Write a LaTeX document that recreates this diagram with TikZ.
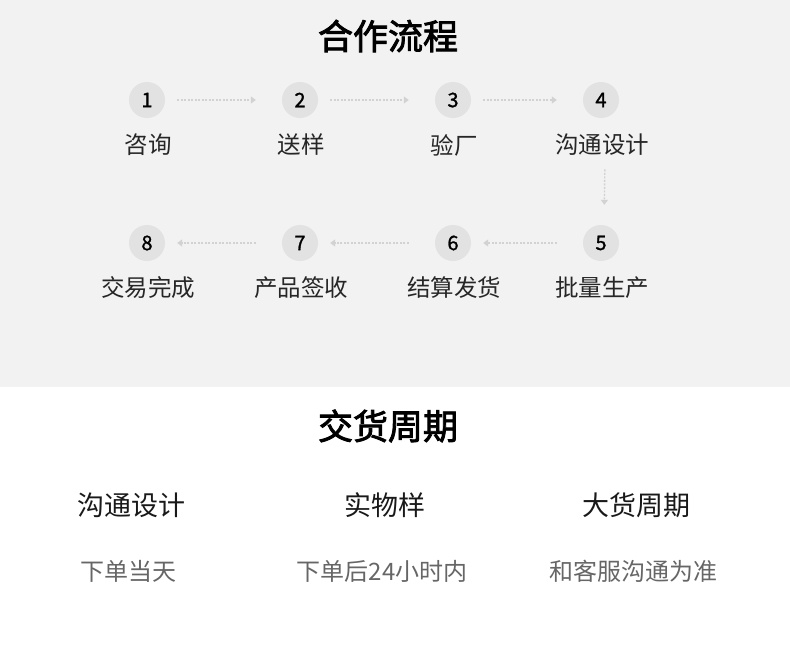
\documentclass[tikz,border=0pt]{standalone}
\usepackage{fontspec}
\setmainfont{Noto Sans CJK SC}
\newfontfamily\numfont{Noto Sans CJK SC}[FakeBold=1.2]
\newfontfamily\headfont{Noto Sans CJK SC}[FakeBold=2.4]
\usetikzlibrary{arrows.meta}
\definecolor{bggray}{HTML}{F2F2F2}
\definecolor{dotgray}{HTML}{E2E2E2}
\definecolor{linegray}{HTML}{D2D2D2}
\definecolor{subgray}{HTML}{666666}
\tikzset{
	stepdot/.style = {circle, fill=dotgray, minimum size=36pt, inner sep=0pt, font=\fontsize{20}{20}\numfont},
	steplabel/.style = {font=\fontsize{23.5}{23.5}\selectfont, text=black!85},
	flow/.style = {draw=linegray, dashed, dash pattern=on 2pt off 1.5pt, line width=1.4pt, -{Triangle[width=7pt,length=5pt]}},
	heading/.style = {font=\fontsize{35}{35}\headfont},
	coltitle/.style = {font=\fontsize{27}{27}\selectfont, text=black!90},
	colnote/.style = {font=\fontsize{24}{24}\selectfont, text=subgray}
}
\begin{document}
\begin{tikzpicture}[x=1pt, y=-1pt]
\useasboundingbox (0,0) rectangle (790,656);
\fill[bggray] (0,0) rectangle (790,387);
\node[heading] (t1) at (388,36) {合作流程};
\node[heading] (t2) at (388,426) {交货周期};
% steps, upper row left to right, lower row right to left
\foreach \n / \x / \y / \txt in {1/147/100/咨询, 2/300/100/送样, 3/453/100/验厂, 4/601/100/沟通设计,
	8/147/243/交易完成, 7/300/243/产品签收, 6/453/243/结算发货, 5/601/243/批量生产}
{
	\node[stepdot] (s\n) at (\x,\y) {\n};
	\node[steplabel] (l\n) at (\x+1,\y+45) {\txt};
}
\foreach \a / \b in {1/2, 2/3, 3/4}
	\draw[flow, shorten <=12pt, shorten >=26pt] (s\a) -- (s\b);
\foreach \a / \b in {5/6, 6/7, 7/8}
	\draw[flow, shorten <=26pt, shorten >=12pt] (s\a) -- (s\b);
\draw[flow, shorten <=10pt, shorten >=20pt] ([xshift=3pt]l4.south) -- ([xshift=3pt]s5.north);
% delivery times
\foreach \i / \x / \head / \note in {1/131/沟通设计/下单当天, 2/385/实物样/下单后24小时内, 3/636/大货周期/和客服沟通为准}
{
	\node[coltitle] (c\i) at (\x,505) {\head};
	\node[colnote] (n\i) at (\x-3,571) {\note};
}
\end{tikzpicture}
\end{document}
